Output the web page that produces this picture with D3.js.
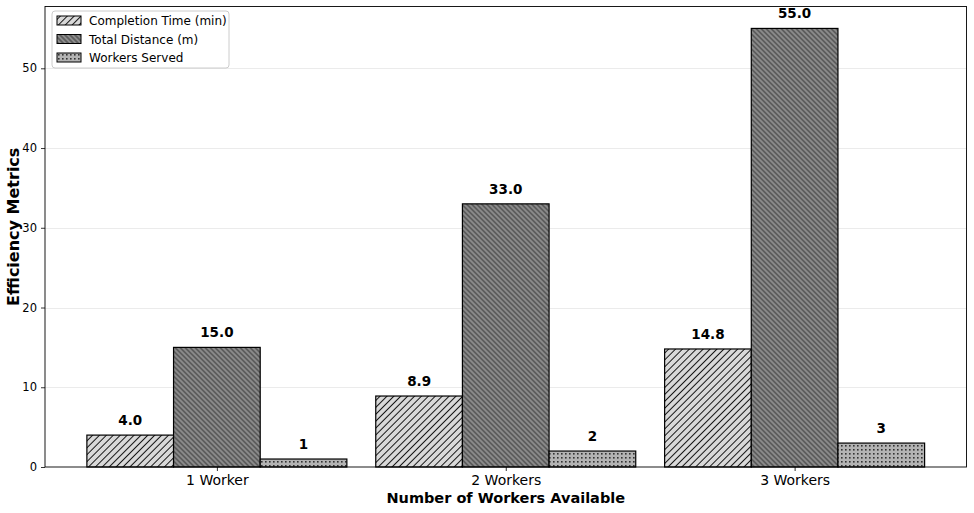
<!DOCTYPE html>
<html>
<head>
<meta charset="utf-8">
<script src="https://cdn.jsdelivr.net/npm/d3@7"></script>
<style>
  html, body { margin: 0; padding: 0; background: #fff; }
  svg { display: block; font-family: "DejaVu Sans", sans-serif; }
</style>
</head>
<body>
<svg id="chart" width="974" height="513"></svg>
<script>
const categories = ["1 Worker", "2 Workers", "3 Workers"];
const completionTime = [4.0, 8.9, 14.8];
const totalDistance = [15.0, 33.0, 55.0];
const workersServed = [1, 2, 3];
const seriesNames = ["Completion Time (min)", "Total Distance (m)", "Workers Served"];
const yTicks = [0, 10, 20, 30, 40, 50];

const series = [
  { name: seriesNames[0], values: completionTime, fill: "#d9d9d9", pat: "hatchA", fmt: d3.format(".1f") },
  { name: seriesNames[1], values: totalDistance, fill: "#8c8c8c", pat: "hatchB", fmt: d3.format(".1f") },
  { name: seriesNames[2], values: workersServed, fill: "#b3b3b3", pat: "hatchC", fmt: d3.format("d") }
];

const svg = d3.select("#chart");
const L = 45, R = 966.5, T = 6.5, B = 467;
const barW = 0.3;

const x = d3.scaleLinear().domain([-0.595, 2.595]).range([L, R]);
const y = d3.scaleLinear().domain([0, 57.75]).range([B, T]);

// patterns
const defs = svg.append("defs");
function linePattern(id, fill, spacing, angle, sw) {
  const p = spacing / Math.SQRT2;
  const pat = defs.append("pattern").attr("id", id)
    .attr("patternUnits", "userSpaceOnUse")
    .attr("width", p).attr("height", p)
    .attr("patternTransform", `rotate(${angle})`);
  pat.append("rect").attr("width", p).attr("height", p).attr("fill", fill);
  pat.append("line").attr("x1", p / 2).attr("x2", p / 2).attr("y1", -1).attr("y2", p + 1)
    .attr("stroke", "#000").attr("stroke-width", sw);
}
linePattern("hatchA", series[0].fill, 6.9, 45, 0.9);
linePattern("hatchB", series[1].fill, 5.0, -45, 0.6);
{
  const s = 4;
  const pat = defs.append("pattern").attr("id", "hatchC")
    .attr("patternUnits", "userSpaceOnUse")
    .attr("width", s).attr("height", s);
  pat.append("rect").attr("width", s).attr("height", s).attr("fill", series[2].fill);
  pat.append("rect").attr("x", 1).attr("y", 1).attr("width", 1.6).attr("height", 1.6).attr("fill", "#333");
}

// grid
svg.append("g").selectAll("line").data(yTicks.filter(d => d > 0)).join("line")
  .attr("x1", L).attr("x2", R)
  .attr("y1", d => Math.round(y(d)) + 0.5).attr("y2", d => Math.round(y(d)) + 0.5)
  .attr("stroke", "#ebebeb").attr("stroke-width", 1);

// bars
series.forEach((s, si) => {
  const off = (si - 1) * barW;
  const g = svg.append("g");
  g.selectAll("rect").data(s.values).join("rect")
    .attr("x", (d, i) => x(i + off - barW / 2))
    .attr("width", x(barW) - x(0))
    .attr("y", d => y(d))
    .attr("height", d => y(0) - y(d))
    .attr("fill", `url(#${s.pat})`)
    .attr("stroke", "#000").attr("stroke-width", 1.2);
  g.selectAll("text").data(s.values).join("text")
    .attr("x", (d, i) => x(i + off))
    .attr("y", d => y(d) - 10)
    .attr("text-anchor", "middle")
    .attr("font-size", 13.5).attr("font-weight", "bold")
    .attr("fill", "#000")
    .text(d => s.fmt(d));
});

// axes
const yAxis = d3.axisLeft(y).tickValues(yTicks).tickSize(4).tickPadding(4).tickFormat(d3.format("d"));
const gy = svg.append("g").attr("transform", `translate(${L},0)`).call(yAxis);
gy.select(".domain").remove();
gy.selectAll("text").attr("font-size", 11.5).attr("font-family", "DejaVu Sans").attr("fill", "#000");
gy.selectAll("line").attr("stroke", "#000").attr("stroke-width", 0.8);

const xAxis = d3.axisBottom(x).tickValues(categories.map((c, i) => i)).tickSize(4).tickPadding(4)
  .tickFormat(i => categories[i]);
const gx = svg.append("g").attr("transform", `translate(0,${B})`).call(xAxis);
gx.select(".domain").remove();
gx.selectAll("text").attr("font-size", 14).attr("font-family", "DejaVu Sans").attr("fill", "#000");
gx.selectAll("line").attr("stroke", "#000").attr("stroke-width", 0.8);

// frame
svg.append("rect").attr("x", L).attr("y", T).attr("width", R - L).attr("height", B - T)
  .attr("fill", "none").attr("stroke", "#000").attr("stroke-width", 0.9);

// axis labels
svg.append("text").attr("x", (L + R) / 2).attr("y", 503)
  .attr("text-anchor", "middle").attr("font-size", 14.5).attr("font-weight", "bold")
  .text("Number of Workers Available");
svg.append("text").attr("transform", `translate(18.5,${(T + B) / 2 - 10}) rotate(-90)`)
  .attr("text-anchor", "middle").attr("font-size", 16).attr("font-weight", "bold")
  .text("Efficiency Metrics");

// legend
const lg = svg.append("g").attr("transform", "translate(52,11)");
lg.append("rect").attr("width", 177).attr("height", 57).attr("rx", 3)
  .attr("fill", "#fff").attr("fill-opacity", 0.8).attr("stroke", "#cccccc").attr("stroke-width", 1);
series.forEach((s, i) => {
  const row = lg.append("g").attr("transform", `translate(5,${5 + i * 18.5})`);
  row.append("rect").attr("width", 24).attr("height", 9)
    .attr("fill", `url(#${s.pat})`).attr("stroke", "#000").attr("stroke-width", 1);
  row.append("text").attr("x", 32).attr("y", 9).attr("font-size", 12).text(s.name);
});
</script>
</body>
</html>
